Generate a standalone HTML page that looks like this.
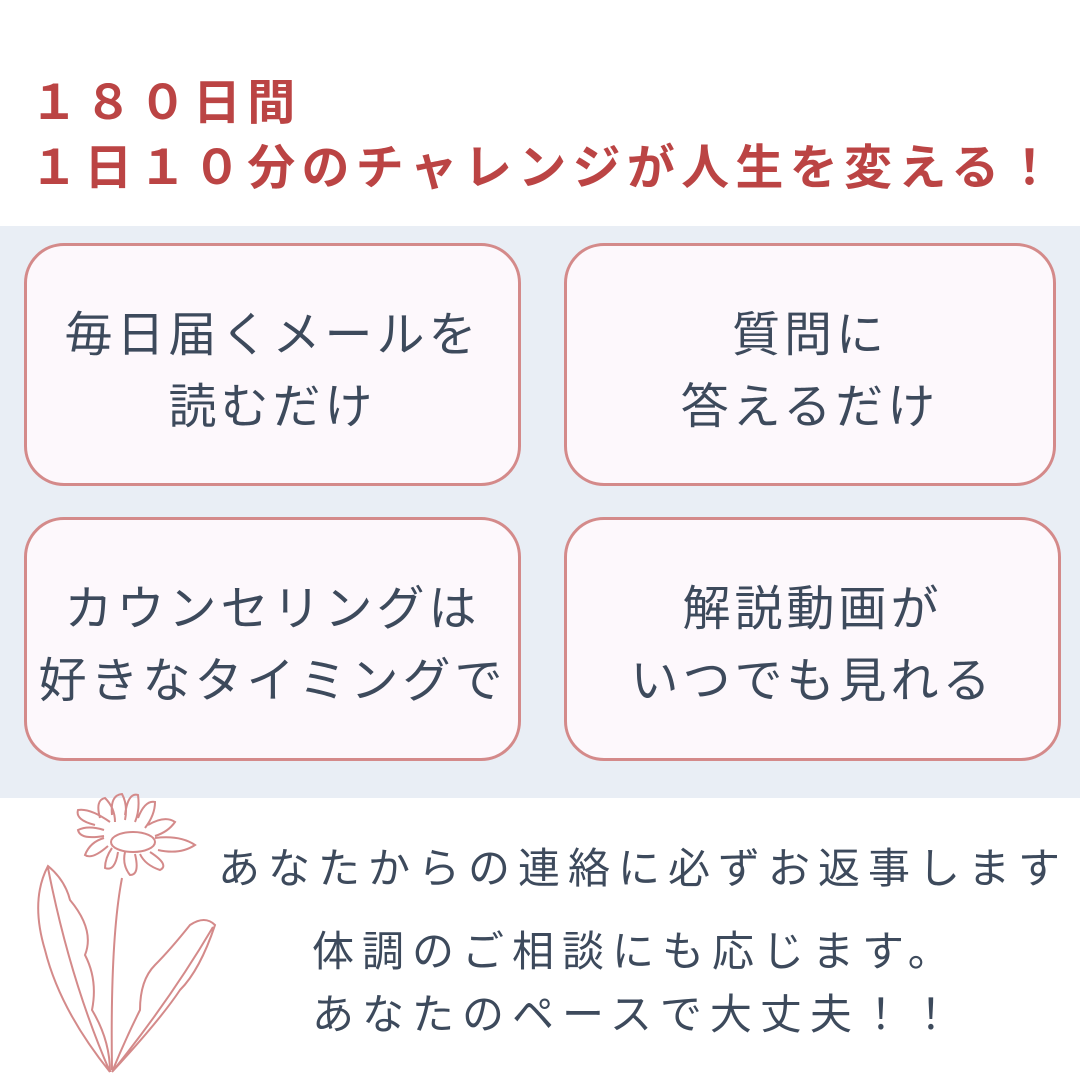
<!DOCTYPE html>
<html><head><meta charset="utf-8"><style>
body{margin:0;width:1080px;height:1080px;background:#fff;position:relative;overflow:hidden;font-family:"Liberation Sans","Noto Sans CJK JP",sans-serif}
.t{position:absolute;left:30px;color:#bb4444;font-weight:bold;font-size:48px;letter-spacing:6.3px;white-space:nowrap;line-height:1}
.band{position:absolute;left:0;top:226px;width:1080px;height:572px;background:#e9eef5}
.box{position:absolute;box-sizing:border-box;border:3px solid #d48a8a;border-radius:40px;background:#fdf8fc;color:#3d4a5c;font-size:48px;letter-spacing:4px;display:flex;align-items:center;justify-content:center;text-align:center;line-height:72px;white-space:nowrap;padding-top:14px}
.b{position:absolute;color:#3d4a5c;font-size:42px;letter-spacing:8px;white-space:nowrap;line-height:1}
</style></head><body>
<div class="t" style="top:80px">１８０日間</div>
<div class="t" style="top:145px">１日１０分のチャレンジが人生を変える！</div>
<div class="band"></div>
<div class="box" style="left:24px;top:243px;width:497px;height:243px">毎日届くメールを<br>読むだけ</div>
<div class="box" style="left:564px;top:243px;width:492px;height:243px">質問に<br>答えるだけ</div>
<div class="box" style="left:24px;top:517px;width:497px;height:244px">カウンセリングは<br>好きなタイミングで</div>
<div class="box" style="left:564px;top:517px;width:497px;height:244px">解説動画が<br>いつでも見れる</div>
<div class="b" style="left:218px;top:848px">あなたからの連絡に必ずお返事します</div>
<div class="b" style="left:312px;top:931px">体調のご相談にも応じます。</div>
<div class="b" style="left:312px;top:994px">あなたのペースで大丈夫！！</div>
<svg style="position:absolute;left:0;top:780px" width="240" height="300" viewBox="0 0 240 300" fill="none" stroke="#d48a8a" stroke-width="2">
<ellipse cx="133" cy="62" rx="22" ry="10"/>
<path d="M95 45 Q75 40 78 30 Q90 28 110 42 M100 38 Q95 20 105 18 Q115 28 115 42 M112 35 Q110 15 122 14 Q128 25 125 40 M125 35 Q128 12 138 15 Q140 30 135 42 M138 38 Q145 20 155 22 Q155 35 145 48 M148 45 Q165 35 175 42 Q168 52 155 56 M155 58 Q180 55 195 65 Q180 75 158 70 M150 72 Q170 85 160 90 Q145 85 140 74 M135 74 Q140 95 130 95 Q122 85 125 72 M118 72 Q115 92 105 88 Q105 78 112 68 M108 66 Q92 80 85 75 Q90 62 104 58 M104 56 Q80 60 78 50 Q88 45 104 50"/>
<path d="M122 98 Q110 160 112 290"/>
<path d="M110 292 Q60 230 45 170 Q30 120 48 86 Q65 100 70 120 Q95 150 85 175 Q98 200 92 230 Q110 260 110 292 M48 88 Q70 200 110 292"/>
<path d="M112 292 Q160 240 180 210 Q200 190 215 145 Q205 135 190 145 Q170 170 155 185 Q140 200 140 230 Q125 260 112 292 M213 147 Q170 220 112 292"/>
</svg>
</body></html>
